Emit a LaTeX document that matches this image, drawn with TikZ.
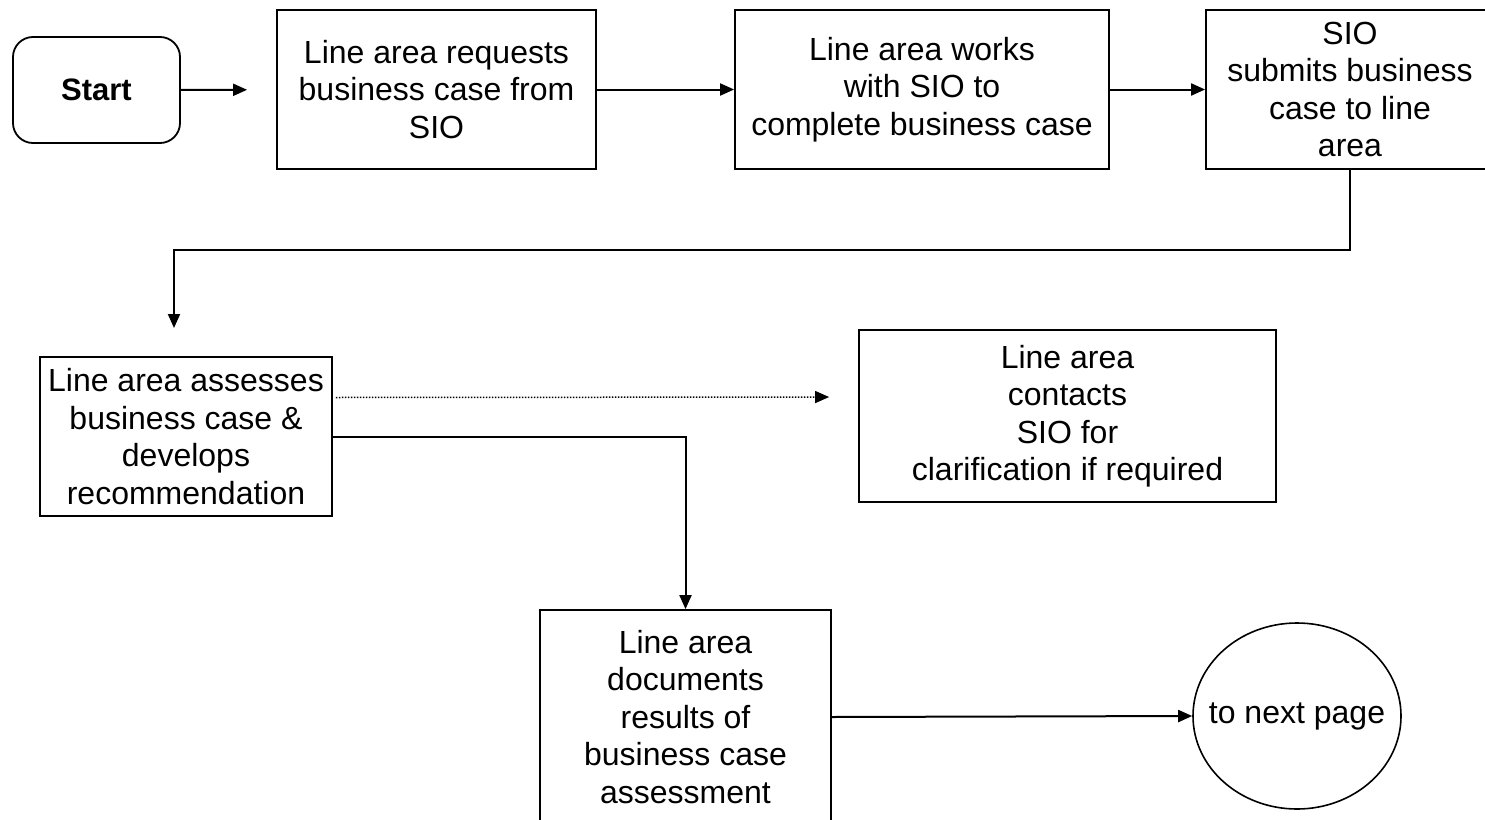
\documentclass[tikz,border=0pt]{standalone}
\usepackage{fontspec}
\setmainfont{Liberation Sans}
\usetikzlibrary{arrows.meta,shapes.geometric}
\begin{document}
\begin{tikzpicture}[x=1pt,y=-1pt,
  every node/.style={font=\fontsize{32}{37.5}\selectfont, align=center, inner sep=0pt},
  stepbox/.style={draw, line width=1.8pt, rectangle},
  startbox/.style={draw, line width=1.8pt, rounded corners=20pt, font=\fontsize{31}{37}\selectfont\bfseries},
  endcircle/.style={draw, line width=1.6pt, ellipse},
  arr/.style={line width=2pt, -{Triangle[length=14pt,width=12pt]}},
  dotarr/.style={line width=1.5pt, dash pattern=on 1.5pt off 1.5pt, -{Triangle[length=14pt,width=12pt]}}]
  \path[use as bounding box] (0,0) rectangle (1485,819);
  \clip (0,0) rectangle (1485,819);

  % process steps
  \node[startbox, minimum width=167pt, minimum height=106pt] (start) at (96.5,90) {Start};
  \node[stepbox, minimum width=319pt, minimum height=159pt] (req) at (436.5,89.5)
    {Line area requests\\business case from\\SIO};
  \node[stepbox, minimum width=374pt, minimum height=159pt] (work) at (922,89.5)
    {Line area works\\with SIO to\\complete business case};
  \node[stepbox, minimum width=288pt, minimum height=159pt] (submit) at (1350,89.5)
    {SIO\\submits business\\case to line\\area};
  \node[stepbox, minimum width=292pt, minimum height=159pt] (assess) at (186,436.5)
    {Line area assesses\\business case \&\\develops\\recommendation};
  \node[stepbox, minimum width=417pt, minimum height=172pt] (contact) at (1067.5,416)
    {Line area\\contacts\\SIO for\\clarification if required};
  \node[stepbox, minimum width=291pt, minimum height=214pt] (doc) at (685.5,717)
    {Line area\\documents\\results of\\business case\\assessment};
  \node[endcircle, minimum width=208pt, minimum height=186pt,
        label={center:to next page}] (next) at (1297,716) {};

  % connectors
  \coordinate (drop) at (174,328);
  \draw[arr, shorten >=29pt] (start) -- (req);
  \draw[arr] (req) -- (work);
  \draw[arr] (work) -- (submit);
  \draw[arr] (submit.south) -- ++(0,80) -| (drop);
  \draw[dotarr, shorten >=29pt] ([xshift=3pt,yshift=39pt]assess.east) -- ([yshift=19pt]contact.west);
  \draw[arr] (assess.east) -| (doc.north);
  \draw[arr] (doc.east) -- (next.west);
\end{tikzpicture}
\end{document}
